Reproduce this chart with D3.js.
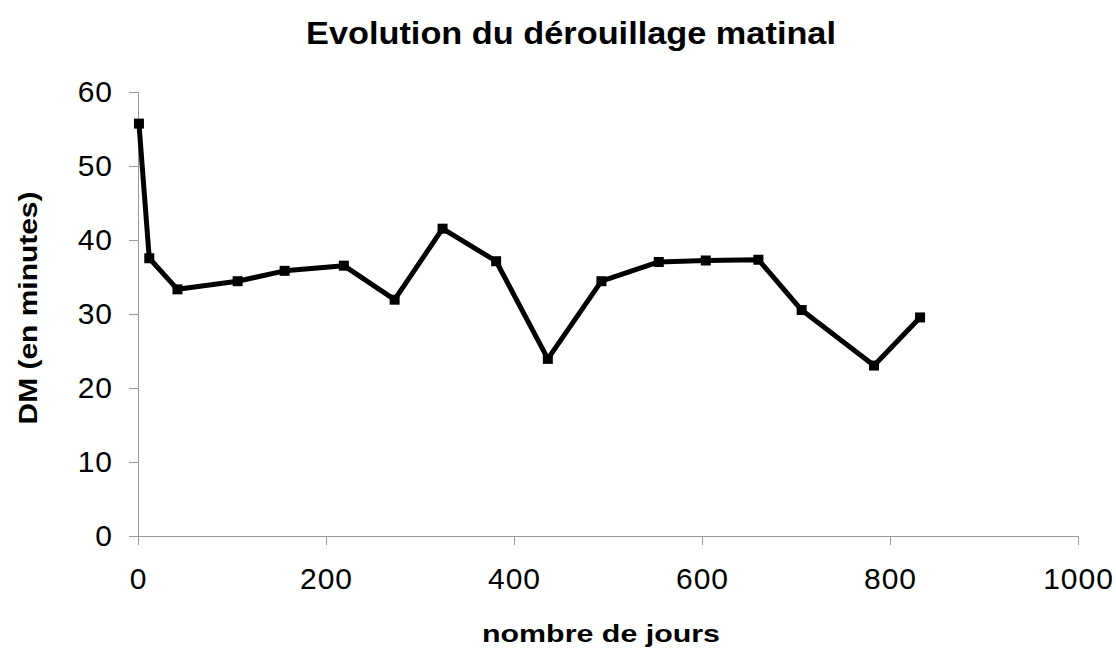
<!DOCTYPE html>
<html>
<head>
<meta charset="utf-8">
<script src="https://cdn.jsdelivr.net/npm/d3@7"></script>
<style>
  body { margin: 0; background: #fff; }
  text { font-family: "Liberation Sans", Arial, sans-serif; fill: #000; }
  .axis path, .axis line { stroke: #999; stroke-width: 1; shape-rendering: crispEdges; }
</style>
</head>
<body>
<svg id="chart"></svg>
<script>
// ---- DATA ---- //
const days = [1, 12, 42, 106, 156, 219, 273, 324, 381, 436, 493, 554, 604, 660, 706, 783, 832];
const dmMinutes = [55.7, 37.5, 33.3, 34.4, 35.8, 36.5, 31.9, 41.5, 37.1, 23.9, 34.4, 37.0, 37.2, 37.3, 30.5, 23.0, 29.5];
const xTicks = [0, 200, 400, 600, 800, 1000];
const yTicks = [0, 10, 20, 30, 40, 50, 60];
const titleText = "Evolution du dérouillage matinal";
const xLabel = "nombre de jours";
const yLabel = "DM (en minutes)";

// ---- THE CHART ---- //
const W = 1116, H = 652;
const margin = {top: 91.8, right: 38, bottom: 116.3, left: 138},
  width = W - margin.left - margin.right,
  height = H - margin.top - margin.bottom;

const root = d3.select("#chart")
  .attr("width", W)
  .attr("height", H);

const svg = root.append("g")
  .attr("transform", "translate(" + margin.left + "," + margin.top + ")");

// scales
const xScale = d3.scaleLinear()
  .domain([0, 1000])
  .range([0, width]);
const yScale = d3.scaleLinear()
  .domain([0, 60])
  .range([height, 0]);

// axes
const xAxis = d3.axisBottom(xScale)
  .tickValues(xTicks)
  .tickFormat(d3.format("d"))
  .tickSize(9)
  .tickSizeOuter(0)
  .tickPadding(23);
svg.append("g")
  .attr("class", "x axis")
  .attr("transform", "translate(0," + height + ")")
  .call(xAxis);

const yAxis = d3.axisLeft(yScale)
  .tickValues(yTicks)
  .tickFormat(d3.format("d"))
  .tickSize(9)
  .tickSizeOuter(0)
  .tickPadding(16);
svg.append("g")
  .attr("class", "y axis")
  .call(yAxis);

svg.selectAll(".axis text")
  .attr("fill", "#000")
  .style("font-size", "30px")
  .style("letter-spacing", "1px");

// line
const points = days.map((d, i) => ({x: d, y: dmMinutes[i]}));
const lineGen = d3.line()
  .x(d => xScale(d.x))
  .y(d => yScale(d.y));

svg.append("path")
  .datum(points)
  .attr("d", lineGen)
  .attr("fill", "none")
  .attr("stroke", "#000")
  .attr("stroke-width", 5)
  .attr("stroke-linejoin", "round");

// square markers
const mk = 10;
svg.selectAll("rect.marker")
  .data(points)
  .enter().append("rect")
    .attr("class", "marker")
    .attr("x", d => xScale(d.x) - mk / 2)
    .attr("y", d => yScale(d.y) - mk / 2)
    .attr("width", mk)
    .attr("height", mk)
    .attr("fill", "#000");

// ---- TEXTS ---- //
root.append("text")
  .attr("x", 571)
  .attr("y", 44)
  .attr("text-anchor", "middle")
  .style("font-size", "31px")
  .attr("font-weight", "bold")
  .attr("textLength", 530)
  .attr("lengthAdjust", "spacingAndGlyphs")
  .text(titleText);

root.append("text")
  .attr("x", 601)
  .attr("y", 642)
  .attr("text-anchor", "middle")
  .style("font-size", "24px")
  .attr("font-weight", "bold")
  .attr("textLength", 238)
  .attr("lengthAdjust", "spacingAndGlyphs")
  .text(xLabel);

root.append("text")
  .attr("transform", "translate(37,308) rotate(-90)")
  .attr("text-anchor", "middle")
  .style("font-size", "25px")
  .attr("font-weight", "bold")
  .attr("textLength", 233)
  .attr("lengthAdjust", "spacingAndGlyphs")
  .text(yLabel);
</script>
</body>
</html>
